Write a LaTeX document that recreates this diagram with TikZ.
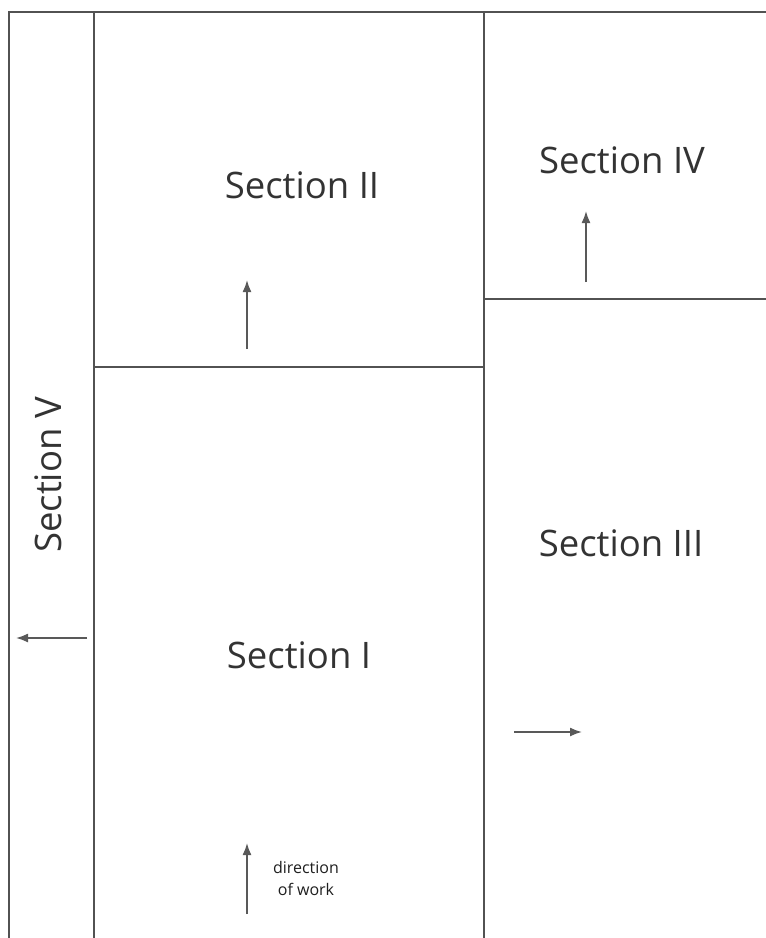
\documentclass[tikz,border=0pt]{standalone}
\usepackage{fontspec}
\setmainfont{Open Sans}
\usetikzlibrary{arrows.meta}
\begin{document}
\begin{tikzpicture}[x=1pt,y=-1pt,
  wall/.style={draw=black!68,line width=2.2pt},
  workarrow/.style={draw=black!65,line width=1.7pt,-{Latex[length=12pt,width=9pt]}},
  seclabel/.style={font=\fontsize{36.5}{40}\selectfont,text=black!80,inner sep=0pt},
  smalllabel/.style={font=\fontsize{16}{22}\selectfont,text=black!88,align=center,inner sep=0pt}]
\useasboundingbox[fill=white] (0,0) rectangle (766,938);
% frame
\coordinate (tl) at (9,12);
\coordinate (tr) at (766,12);
\coordinate (bl) at (9,938);
\draw[wall] (bl) -- (tl) -- (tr);
\draw[wall] (94,12) -- (94,938);
\draw[wall] (484,12) -- (484,938);
\draw[wall] (94,367) -- (484,367);
\draw[wall] (484,299) -- (766,299);
% labels
\node[seclabel] (s2) at (302,185) {Section II};
\node[seclabel] (s4) at (622,160) {Section IV};
\node[seclabel] (s3) at (621,543) {Section III};
\node[seclabel] (s1) at (299,655) {Section I};
\node[seclabel,rotate=90] (s5) at (48,475) {Section V};
\node[smalllabel] (dw) at (306,878) {direction\\of work};
% arrows
\coordinate (a2s) at (247,349); \coordinate (a2e) at (247,280);
\coordinate (a4s) at (586,282); \coordinate (a4e) at (586,211);
\coordinate (a5s) at (87,638);  \coordinate (a5e) at (16,638);
\coordinate (a3s) at (514,732); \coordinate (a3e) at (582,732);
\coordinate (a1s) at (247,914); \coordinate (a1e) at (247,843);
\draw[workarrow] (a2s) -- (a2e);
\draw[workarrow] (a4s) -- (a4e);
\draw[workarrow] (a5s) -- (a5e);
\draw[workarrow] (a3s) -- (a3e);
\draw[workarrow] (a1s) -- (a1e);
\end{tikzpicture}
\end{document}
